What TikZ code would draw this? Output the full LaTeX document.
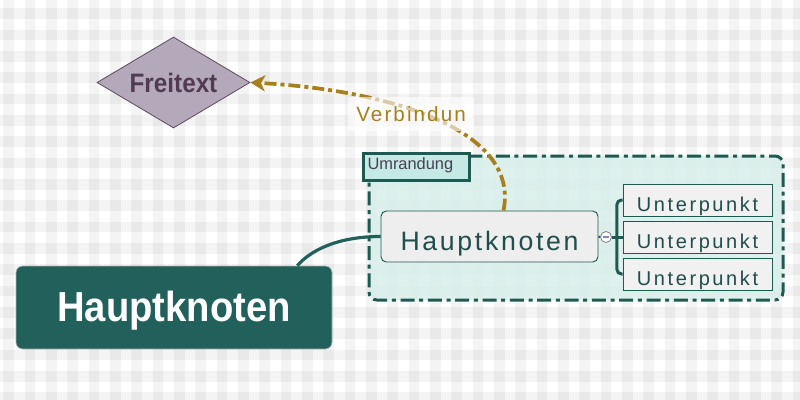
\documentclass[tikz,border=0pt]{standalone}
\usepackage{fontspec}
\setmainfont{Liberation Sans}
\newfontfamily\headfont[FakeStretch=0.91]{Liberation Sans}
\newfontfamily\spacedfont[LetterSpace=10]{Liberation Sans}
\newfontfamily\widefont[LetterSpace=13]{Liberation Sans}
\usepackage{tikz}
\usetikzlibrary{calc, shapes.geometric, arrows.meta}
\tikzset{>=latex}
\definecolor{myteal}{RGB}{34, 97, 91}
\definecolor{mydarkteal}{RGB}{31, 90, 82}
\definecolor{myframe}{RGB}{216, 239, 235}
\definecolor{mylabel}{RGB}{197, 233, 228}
\definecolor{mygray1}{RGB}{238, 238, 238}
\definecolor{mygray2}{RGB}{241, 241, 241}
\definecolor{mytext}{RGB}{31, 78, 76}
\definecolor{mygold}{RGB}{167, 127, 29}
\definecolor{mylilac}{RGB}{179, 169, 187}
\definecolor{myplum}{RGB}{94, 74, 92}
\definecolor{myplumtext}{RGB}{82, 59, 82}
\definecolor{myumtext}{RGB}{74, 64, 84}
\definecolor{myminus}{RGB}{130, 136, 196}

\begin{document}
\begin{tikzpicture}[
    x = 0.75pt, y = -0.75pt,
    band/.style = {fill = black, fill opacity = 0.045},
    mainnode/.style = {rectangle, rounded corners = 5pt, fill = myteal, draw = gray!60, line width = 0.5pt, text = white, font = \headfont\bfseries\fontsize{31.5pt}{36pt}\selectfont, minimum width = 237pt, minimum height = 62.25pt, inner sep = 0pt, text height = 21.3pt, text depth = 0pt},
    topicnode/.style = {rectangle, rounded corners = 4pt, fill = mygray1, draw = mydarkteal, line width = 0.7pt, text = mytext, font = \spacedfont\fontsize{20pt}{24pt}\selectfont, minimum width = 162.75pt, minimum height = 38.25pt, inner sep = 0pt, text height = 21.3pt, text depth = 0pt},
    subnode/.style = {rectangle, fill = mygray2, draw = mydarkteal, line width = 0.7pt, text = mytext, font = \widefont\fontsize{15pt}{18pt}\selectfont, minimum width = 111.75pt, minimum height = 24pt, inner sep = 0pt, text height = 16.5pt, text depth = 0pt},
    freenode/.style = {diamond, aspect = 1.68, fill = mylilac, draw = myplum, line width = 0.6pt, text = myplumtext, font = \headfont\bfseries\fontsize{20pt}{24pt}\selectfont, minimum width = 114.75pt, minimum height = 68.25pt, inner sep = 0pt, text depth = 0pt},
    foldnode/.style = {circle, fill = white, draw = gray, line width = 0.6pt, minimum size = 8.25pt, inner sep = 0pt},
    framebox/.style = {rounded corners = 6pt, fill = myframe, fill opacity = 0.85, draw = mydarkteal, draw opacity = 1, line width = 2.25pt, dash pattern = on 10.5pt off 3.5pt on 3pt off 3.5pt},
    framelabel/.style = {rectangle, fill = mylabel, draw = mydarkteal, line width = 2.25pt, text = myumtext, font = \fontsize{12.3pt}{14pt}\selectfont, inner xsep = 3pt, inner ysep = 0pt, text width = 73.5pt, align = left, minimum height = 20.25pt, text height = 9pt, text depth = 6pt},
    branch/.style = {draw = mydarkteal, line width = 2.25pt},
    link/.style = {draw = myteal, line width = 2.4pt},
    relation/.style = {draw = mygold, line width = 2.8pt, dash pattern = on 9pt off 3pt on 3pt off 3pt, -{Stealth[length = 11pt, width = 12pt, inset = 3pt]}},
    relationlabel/.style = {fill = white, fill opacity = 0.6, text opacity = 1, text = mygold, font = \spacedfont\fontsize{15.5pt}{18pt}\selectfont, inner xsep = 6pt, inner ysep = 7pt, text depth = 0pt},
]

\useasboundingbox (0, 0) rectangle (800, 400);
\fill[white] (0, 0) rectangle (800, 400);
\foreach \i in {0,...,37} {\fill[band] ({3.33 + 21.333*\i}, 0) rectangle ++(10.67, 400);}
\foreach \j in {0,...,18} {\fill[band] (0, {8.33 + 21.333*\j}) rectangle ++(800, 10.67);}

\draw[framebox] (369, 156) rectangle (783, 300);
\node[framelabel, anchor = north west] (border) at (362, 152) {Umrandung};

\node[mainnode] (main) at (174, 307.5) {Hauptknoten};
\node[topicnode] (topic) at (489.5, 236.5) {Hauptknoten};
\node[foldnode] (fold) at (606, 237) {};
\draw[myminus, line width = 0.8pt] ($(fold.center) + (-3, 0)$) -- ($(fold.center) + (3, 0)$);
\coordinate (hub) at ($(fold.east) + (5, 0)$);
\foreach \i/\y in {1/200, 2/237, 3/274}
    \node[subnode] (sub\i) at (697.5, \y) {Unterpunkt};
\node[freenode] (free) at (173.5, 82.5) {Freitext};

\draw[link] ($(main.north east) + (-35, 0)$) .. controls +(12, -14) and +(-45, 0) .. (topic.west);
\draw[branch, line width = 1.5pt] (topic.east) -- (fold.west);
\draw[branch] (fold.east) -- (hub) -- (sub2.west);
\draw[branch, rounded corners = 3.5pt] (sub1.west) -| (hub) |- (sub3.west);

\draw[relation] ($(topic.north) + (14, 0)$) .. controls (520, 130) and (390, 90) .. (free.east)
    node[pos = 0.58, yshift = -3pt, relationlabel] {Verbindun};

\end{tikzpicture}
\end{document}
